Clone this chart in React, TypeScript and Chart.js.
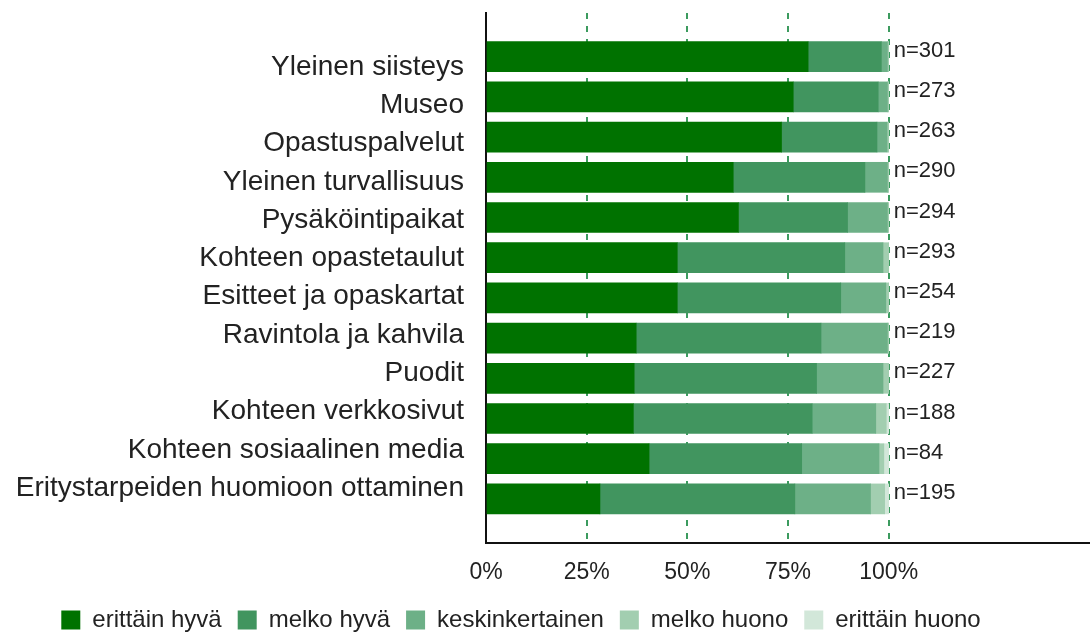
import React, { useEffect, useRef } from 'react';
import { Chart, registerables } from 'chart.js';

Chart.register(...registerables);

const categories = [
  'Yleinen siisteys',
  'Museo',
  'Opastuspalvelut',
  'Yleinen turvallisuus',
  'Pysäköintipaikat',
  'Kohteen opastetaulut',
  'Esitteet ja opaskartat',
  'Ravintola ja kahvila',
  'Puodit',
  'Kohteen verkkosivut',
  'Kohteen sosiaalinen media',
  'Eritystarpeiden huomioon ottaminen',
];

const nValues = [301, 273, 263, 290, 294, 293, 254, 219, 227, 188, 84, 195];

const seriesNames = ['erittäin hyvä', 'melko hyvä', 'keskinkertainen', 'melko huono', 'erittäin huono'];
const seriesColors = ['#007200', '#41955F', '#6DB087', '#A2CEB0', '#D2E7D9'];

const erittainHyva = [80.0, 76.3, 73.4, 61.4, 62.7, 47.5, 47.5, 37.3, 36.8, 36.6, 40.5, 28.3];
const melkoHyva = [18.2, 21.1, 23.7, 32.7, 27.1, 41.6, 40.6, 45.9, 45.3, 44.4, 37.9, 48.4];
const keskinkertainen = [1.5, 2.3, 2.5, 5.6, 9.9, 9.5, 11.2, 16.5, 16.5, 15.8, 19.2, 18.8];
const melkoHuono = [0.3, 0.3, 0.4, 0.3, 0.3, 1.4, 0.7, 0.3, 1.4, 2.6, 1.2, 3.5];
const erittainHuono = [0, 0, 0, 0, 0, 0, 0, 0, 0, 0.6, 1.2, 1.0];

const xTickValues = [0, 25, 50, 75, 100];

const FONT = "'Liberation Sans', Arial, sans-serif";

const nLabelPlugin = {
  id: 'nLabels',
  afterDatasetsDraw(chart: any) {
    const { ctx, scales } = chart;
    const x = scales.x.getPixelForValue(100) + 5;
    ctx.save();
    ctx.font = `22px ${FONT}`;
    ctx.fillStyle = '#222';
    ctx.textAlign = 'left';
    ctx.textBaseline = 'middle';
    nValues.forEach((n, i) => {
      const y = scales.y.getPixelForValue(i) - 6;
      ctx.fillText(`n=${n}`, x, y);
    });
    ctx.restore();
  },
};

const legendShiftPlugin = {
  id: 'legendShift',
  afterLayout(chart: any) {
    const l = chart.legend;
    if (l) {
      l.left -= 24;
      l.right -= 24;
      l.top += 13;
      l.bottom += 13;
    }
  },
};

export default function App() {
  const ref = useRef<HTMLCanvasElement | null>(null);

  useEffect(() => {
    document.body.style.margin = '0';
    const canvas = ref.current;
    if (!canvas) return;
    const seriesData = [erittainHyva, melkoHyva, keskinkertainen, melkoHuono, erittainHuono];
    const chart = new Chart(canvas, {
      type: 'bar',
      data: {
        datasets: seriesNames.map((name, k) => ({
          label: name,
          data: seriesData[k].map((v, i) => ({ x: v, y: i })),
          backgroundColor: seriesColors[k],
          borderWidth: 0,
          barThickness: 30,
          yAxisID: 'y',
          xAxisID: 'x',
        })),
      },
      options: {
        indexAxis: 'y',
        responsive: false,
        animation: false,
        layout: { padding: { top: 13, left: 0, right: 0, bottom: 4 } },
        plugins: {
          tooltip: { enabled: false },
          legend: {
            position: 'bottom',
            labels: {
              boxWidth: 19,
              boxHeight: 19,
              padding: 16,
              color: '#222',
              font: { family: FONT, size: 24 },
            },
          },
        },
        scales: {
          x: {
            type: 'linear',
            stacked: true,
            min: 0,
            max: 150,
            afterBuildTicks: (s: any) => {
              s.ticks = xTickValues.map((v) => ({ value: v }));
            },
            afterFit: (s: any) => {
              const lh = s.chart.legend ? s.chart.legend.height : 0;
              s.height = 90 - 4 - lh;
            },
            ticks: {
              callback: (v: any) => `${v}%`,
              font: { family: FONT, size: 23 },
              color: '#222',
              padding: 16,
              autoSkip: false,
              maxRotation: 0,
            },
            grid: { color: '#3c9b5f', lineWidth: 2, drawTicks: false },
            border: { display: true, color: '#111', width: 2, dash: [6, 7] },
          },
          y: {
            type: 'linear',
            stacked: true,
            reverse: true,
            offset: false,
            min: -1.087,
            max: 12.097,
            display: false,
          },
          yl: {
            type: 'linear',
            axis: 'y',
            position: 'left',
            reverse: true,
            offset: false,
            min: -1.41,
            max: 12.43,
            afterBuildTicks: (s: any) => {
              s.ticks = categories.map((_, i) => ({ value: i }));
            },
            afterFit: (s: any) => {
              s.width = 486;
              s.paddingTop = 0;
              s.paddingBottom = 0;
            },
            ticks: {
              callback: (v: any) => categories[v],
              font: { family: FONT, size: 28 },
              color: '#222',
              padding: 22,
              autoSkip: false,
            },
            grid: { display: false, drawTicks: false },
            border: { display: true, color: '#111', width: 2 },
          },
        } as any,
      },
      plugins: [nLabelPlugin, legendShiftPlugin],
    } as any);
    return () => chart.destroy();
  }, []);

  return (
    <div style={{ width: 1090, height: 633 }}>
      <canvas ref={ref} width={1090} height={633} />
    </div>
  );
}
